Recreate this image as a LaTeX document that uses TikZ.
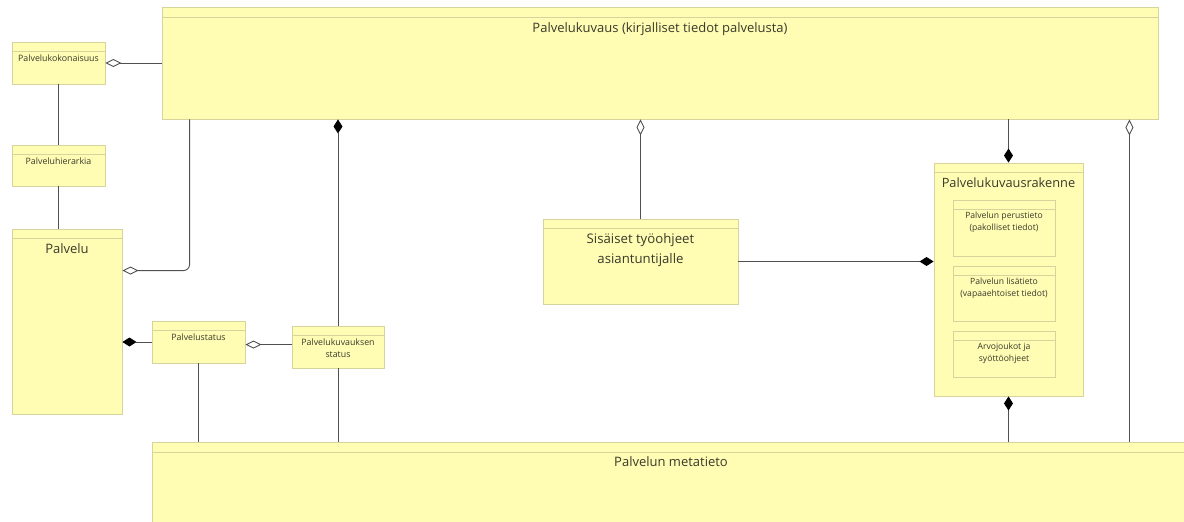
\documentclass[tikz,border=0pt]{standalone}
\usepackage{fontspec}
\setmainfont{Open Sans}
\usetikzlibrary{arrows.meta,fit}
\definecolor{boxfill}{HTML}{FFFCB4}
\definecolor{boxedge}{HTML}{D6D49C}
\definecolor{wire}{HTML}{505050}
\definecolor{ink}{HTML}{3A3A2A}
\tikzset{
  classbox/.style={draw=boxedge, fill=boxfill, line width=0.9pt, inner sep=0pt,
    path picture={\draw[boxedge, line width=0.8pt]
      ([yshift=-#1]path picture bounding box.north west) --
      ([yshift=-#1]path picture bounding box.north east);}},
  classbox/.default=9pt,
  title/.style={anchor=north, align=center, text=ink, inner sep=0pt, font=#1},
  wireline/.style={draw=wire, line width=0.9pt},
  opendia/.tip={Diamond[open, length=16pt, width=8pt, fill=white]},
  fulldia/.tip={Diamond[length=14pt, width=9pt, color=black]},
}
\begin{document}
\begin{tikzpicture}[x=1pt, y=-1pt]
\useasboundingbox (0,0) rectangle (1184,522);

% classes
\node[classbox=10pt, fit={(162,7)(1158,119)}] (kuv) {};
\node[title=\fontsize{13}{16}\selectfont] (kuv-t) at ([yshift=-16pt]kuv.north) {Palvelukuvaus (kirjalliset tiedot palvelusta)};

\node[classbox, fit={(12,42)(105,84)}] (kok) {};
\node[title=\fontsize{8.8}{11}\selectfont] (kok-t) at ([yshift=-13pt]kok.north) {Palvelukokonaisuus};

\node[classbox, fit={(12,145)(105,186)}] (hier) {};
\node[title=\fontsize{8.8}{11}\selectfont] (hier-t) at ([yshift=-13pt]hier.north) {Palveluhierarkia};

\node[classbox, fit={(12,229)(122,414)}] (pal) {};
\node[title=\fontsize{13}{16}\selectfont] (pal-t) at ([yshift=-15pt]pal.north) {Palvelu};

\node[classbox, fit={(152,321)(245,363)}] (pst) {};
\node[title=\fontsize{8.8}{11}\selectfont] (pst-t) at ([yshift=-13pt]pst.north) {Palvelustatus};

\node[classbox, fit={(292,326)(384,368)}] (pks) {};
\node[title=\fontsize{8.8}{12}\selectfont] (pks-t) at ([yshift=-13pt]pks.north) {Palvelukuvauksen\\status};

\node[classbox=10pt, fit={(152,442)(1200,540)}] (meta) {};
\node[title=\fontsize{13}{16}\selectfont] (meta-t) at ([yshift=-15pt]meta.north -| 671,0) {Palvelun metatieto};

\node[classbox, fit={(543,219)(738,304)}] (sis) {};
\node[title=\fontsize{13.2}{20}\selectfont] (sis-t) at ([yshift=-15pt]sis.north) {Sisäiset työohjeet\\asiantuntijalle};

\node[classbox, fit={(934,163)(1083,396)}] (rak) {};
\node[title=\fontsize{12.8}{15}\selectfont] (rak-t) at ([yshift=-15pt]rak.north) {Palvelukuvausrakenne};

\node[classbox, fit={(953,200)(1055,256)}] (per) {};
\node[title=\fontsize{8.6}{12}\selectfont] (per-t) at ([yshift=-12pt]per.north) {Palvelun perustieto\\(pakolliset tiedot)};

\node[classbox, fit={(953,266)(1055,321)}] (lis) {};
\node[title=\fontsize{8.6}{12}\selectfont] (lis-t) at ([yshift=-12pt]lis.north) {Palvelun lisätieto\\(vapaaehtoiset tiedot)};

\node[classbox, fit={(953,331)(1055,377)}] (arv) {};
\node[title=\fontsize{8.6}{12}\selectfont] (arv-t) at ([yshift=-12pt]arv.north) {Arvojoukot ja\\syöttöohjeet};

% associations
\draw[wireline, -{opendia}] (kuv.west) -- (kok.east);
\draw[wireline] (kok.south) -- (hier.north);
\draw[wireline] (hier.south) -- (hier.south |- pal.north);
\draw[wireline, rounded corners=6pt, -{opendia}] ([xshift=28pt]kuv.south west) |- ([yshift=-42pt]pal.north east);
\draw[wireline, -{fulldia}] (pst.west) -- (pst.west -| pal.east);
\draw[wireline, -{opendia}] ([yshift=-19pt]pks.north west) -- ([yshift=-19pt]pks.north west -| pst.east);
\draw[wireline, {fulldia}-] (kuv.south -| pks.north) -- (pks.north);
\draw[wireline] (pks.south) -- (pks.south |- meta.north);
\draw[wireline] (pst.south) -- (pst.south |- meta.north);
\draw[wireline, {opendia}-] (kuv.south -| sis.north) -- (sis.north);
\draw[wireline, -{fulldia}] (sis.east) -- (sis.east -| rak.west);
\draw[wireline, -{fulldia}] (kuv.south -| rak.north) -- (rak.north);
\draw[wireline, {opendia}-] ([xshift=-29pt]kuv.south east) -- ([xshift=-29pt]kuv.south east |- meta.north);
\draw[wireline, {fulldia}-] (rak.south) -- (rak.south |- meta.north);
\end{tikzpicture}
\end{document}
